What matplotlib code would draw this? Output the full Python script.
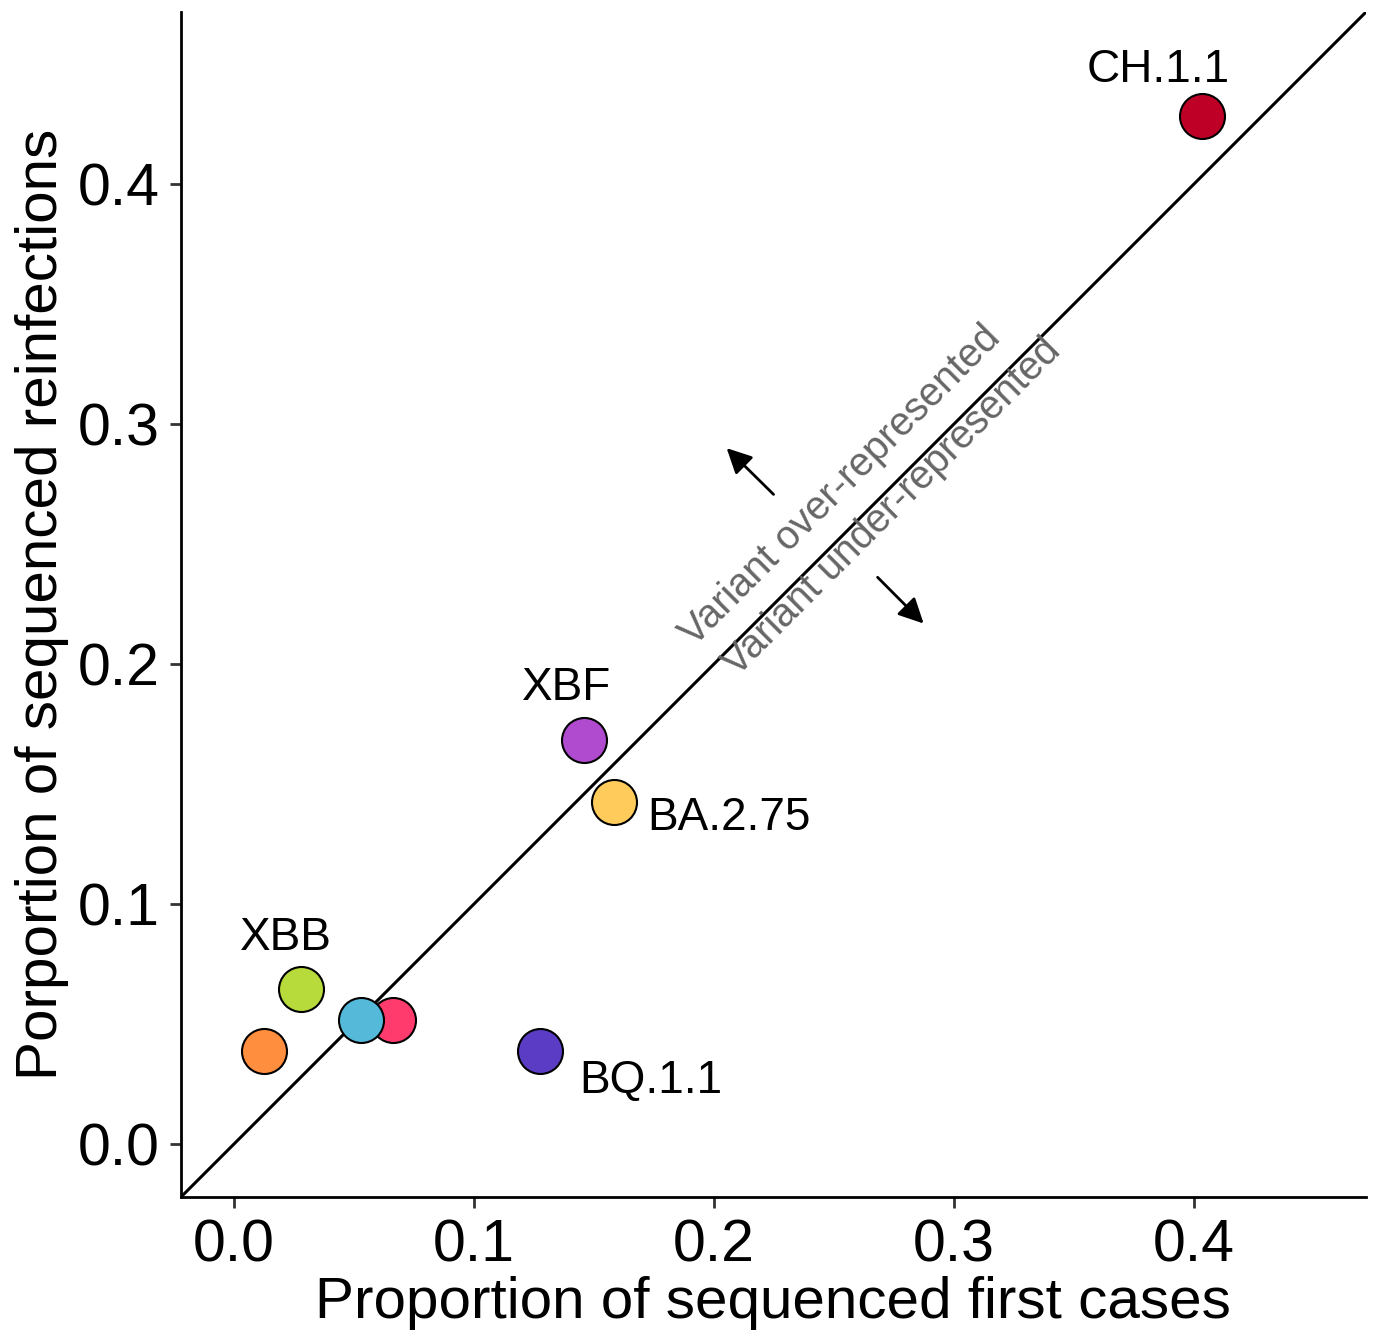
import matplotlib
matplotlib.use("Agg")
import matplotlib.pyplot as plt

plt.rcParams['font.family'] = ['Liberation Sans', 'DejaVu Sans']

# proportion of sequenced first cases / reinfections per variant
variants = ['CH.1.1', 'XBF', 'BA.2.75', 'XBB', 'other1', 'other2', 'other3', 'BQ.1.1']
first_cases = [0.4033, 0.1458, 0.1583, 0.0279, 0.0529, 0.0663, 0.0125, 0.1275]
reinfections = [0.4286, 0.1686, 0.1427, 0.0647, 0.0518, 0.0518, 0.0388, 0.0388]
colors = ['#BE0027', '#B04BCF', '#FFCC5C', '#B8DB3C', '#55B9DA', '#FF3B6E', '#FF8F3F', '#5B3CC4']
draw_order = [0, 1, 2, 3, 6, 7, 5, 4]

# label positions (data coords)
labels = ['CH.1.1', 'XBF', 'BA.2.75', 'XBB', 'BQ.1.1']
label_x = [0.3854, 0.1388, 0.2063, 0.0217, 0.1738]
label_y = [0.4478, 0.1903, 0.1361, 0.0860, 0.0263]

ticks = [0.0, 0.1, 0.2, 0.3, 0.4]
lims = (-0.0221, 0.4718)

fig = plt.figure(figsize=(13.78, 13.32), dpi=100)
ax = fig.add_axes([0.1310, 0.1010, 0.8603, 0.8900])

ax.axline((0, 0), slope=1, color='black', lw=2.2, zorder=1)

for i in draw_order:
    ax.scatter(first_cases[i], reinfections[i], s=1050, color=colors[i],
               edgecolor='black', linewidth=1.5, zorder=3)

for lab, lx, ly in zip(labels, label_x, label_y):
    ax.text(lx, ly, lab, fontsize=33, ha='center', va='center', color='black')

ax.text(0.2529, 0.2746, 'Variant over-represented', rotation=45, rotation_mode='anchor',
        ha='center', va='center', fontsize=28.5, color='#666666')
ax.text(0.2742, 0.2654, 'Variant under-represented', rotation=45, rotation_mode='anchor',
        ha='center', va='center', fontsize=28.5, color='#666666')

ax.annotate('', xy=(0.2046, 0.2909), xytext=(0.2258, 0.2700),
            arrowprops=dict(arrowstyle='-|>', color='black', lw=2.0, mutation_scale=38))
ax.annotate('', xy=(0.2883, 0.2162), xytext=(0.2675, 0.2371),
            arrowprops=dict(arrowstyle='-|>', color='black', lw=2.0, mutation_scale=38))

ax.set_xlim(*lims)
ax.set_ylim(*lims)
ax.set_xticks(ticks)
ax.set_yticks(ticks)
ax.set_xticklabels([f'{t:.1f}' for t in ticks])
ax.set_yticklabels([f'{t:.1f}' for t in ticks])

for side in ['top', 'right']:
    ax.spines[side].set_visible(False)
for side in ['left', 'bottom']:
    ax.spines[side].set_linewidth(2.0)
ax.tick_params(axis='both', labelsize=42.5, color='#333333', length=8, width=2.0, pad=7)

ax.set_xlabel('Proportion of sequenced first cases', fontsize=42, labelpad=2)
ax.set_ylabel('Porportion of sequenced reinfections', fontsize=42, labelpad=6)

fig.savefig('out.png', dpi=100)
